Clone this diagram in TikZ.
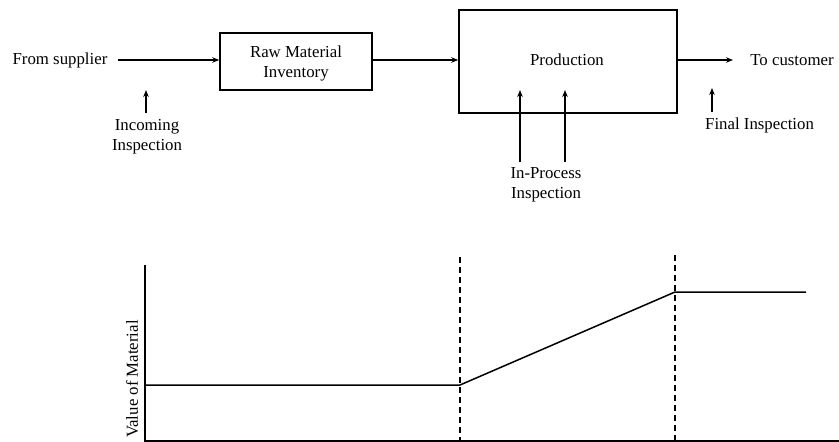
\documentclass[tikz,border=0pt]{standalone}
\usepackage{fontspec}
\setmainfont{Liberation Serif}
\usetikzlibrary{arrows.meta}
\begin{document}
\begin{tikzpicture}[x=1pt,y=-1pt,
  lbl/.style={font=\fontsize{16.8}{20}\selectfont, inner sep=0pt, align=center},
  boxn/.style={draw, line width=1.5pt, inner sep=0pt},
  ln/.style={line width=1.5pt},
  arr/.style={ln, -{Stealth[length=7pt,width=5.5pt]}},
  dsh/.style={line width=1.4pt, dash pattern=on 6pt off 4pt}]
\useasboundingbox (0,0) rectangle (839,442);
% top flow
\node[lbl] (sup) at (60,60) {From supplier};
\coordinate (supend) at (118,60);
\node[boxn, minimum width=152pt, minimum height=57pt] (raw) at (296,61.5) {};
\node[lbl] (rawt) at (296,63) {Raw Material\\Inventory};
\node[boxn, minimum width=218pt, minimum height=103pt] (prod) at (568,61.5) {};
\node[lbl] (prodt) at (567,60) {Production};
\node[lbl] (cust) at (792,60) {To customer};
\coordinate (custend) at (733,60);
\draw[arr] (supend) -- (raw.west |- supend);
\draw[arr] (raw.east |- supend) -- (prod.west |- supend);
\draw[arr] (prod.east |- supend) -- (custend);
% inspections
\coordinate (inA) at (146,113); \coordinate (inB) at (146,90);
\draw[arr] (inA) -- (inB);
\node[lbl] (inc) at (147,137) {Incoming\\Inspection};
\coordinate (p1a) at (520,162); \coordinate (p1b) at (520,90);
\coordinate (p2a) at (565,162); \coordinate (p2b) at (565,90);
\draw[arr] (p1a) -- (p1b);
\draw[arr] (p2a) -- (p2b);
\node[lbl] (proc) at (546,185) {In-Process\\Inspection};
\coordinate (fa) at (712,112); \coordinate (fb) at (712,88);
\draw[arr] (fa) -- (fb);
\node[lbl, anchor=west] (fin) at (705,125) {Final Inspection};
% graph
\draw[ln] (145,265) -- (145,441) -- (839,441);
\draw[dsh] (460,257) -- (460,441);
\draw[dsh] (675,255) -- (675,441);
\draw[ln] (145,385) -- (460,385) -- (675,292) -- (806,292);
\node[lbl, rotate=90] (val) at (132,379) {Value of Material};
\end{tikzpicture}
\end{document}
